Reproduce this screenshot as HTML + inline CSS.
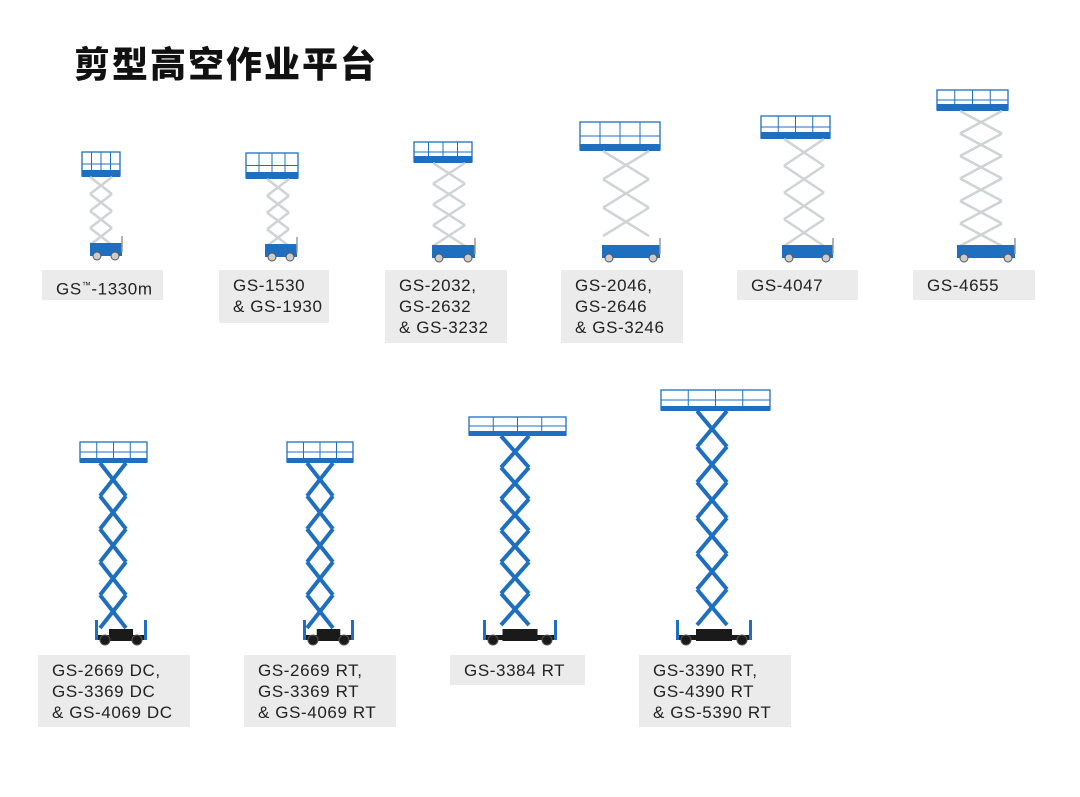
<!DOCTYPE html>
<html><head><meta charset="utf-8">
<style>
html,body{margin:0;padding:0;background:#fff;}
body{width:1080px;height:797px;position:relative;overflow:hidden;font-family:"Liberation Sans","Noto Sans CJK SC",sans-serif;}
h1{position:absolute;left:74px;top:36px;margin:0;font-size:36px;font-weight:900;letter-spacing:2px;font-family:"Noto Sans CJK SC","WenQuanYi Zen Hei",sans-serif;color:#111;}
.lb{position:absolute;background:#ebebeb;color:#222;font-size:17px;line-height:21px;padding:5px 0 0 14px;box-sizing:border-box;letter-spacing:0.6px;}
svg{position:absolute;left:0;top:0;}
</style></head><body>
<h1>剪型高空作业平台</h1>
<svg id="s" width="1080" height="797"></svg>
<div class="lb" style="left:42px;top:270px;width:121px;height:30px">GS<sup style="font-size:9px">™</sup>-1330m</div>
<div class="lb" style="left:219px;top:270px;width:110px;height:53px">GS-1530<br>&amp; GS-1930</div>
<div class="lb" style="left:385px;top:270px;width:122px;height:73px">GS-2032,<br>GS-2632<br>&amp; GS-3232</div>
<div class="lb" style="left:561px;top:270px;width:122px;height:73px">GS-2046,<br>GS-2646<br>&amp; GS-3246</div>
<div class="lb" style="left:737px;top:270px;width:121px;height:30px">GS-4047</div>
<div class="lb" style="left:913px;top:270px;width:122px;height:30px">GS-4655</div>
<div class="lb" style="left:38px;top:655px;width:152px;height:72px">GS-2669 DC,<br>GS-3369 DC<br>&amp; GS-4069 DC</div>
<div class="lb" style="left:244px;top:655px;width:152px;height:72px">GS-2669 RT,<br>GS-3369 RT<br>&amp; GS-4069 RT</div>
<div class="lb" style="left:450px;top:655px;width:135px;height:30px">GS-3384 RT</div>
<div class="lb" style="left:639px;top:655px;width:152px;height:72px">GS-3390 RT,<br>GS-4390 RT<br>&amp; GS-5390 RT</div>
<script>
var B='#1f6fc0',G='#cfd3d6',K='#1a1a1a';
var o='';
function lift(px,pw,pt,pb,sx,sw,sb,bx,bw,bb,n,rt){
  o+='<rect x="'+px+'" y="'+pt+'" width="'+pw+'" height="'+(pb-pt)+'" fill="none" stroke="'+B+'" stroke-width="1.3"/>';
  o+='<line x1="'+px+'" y1="'+(pt+(pb-pt)*0.5)+'" x2="'+(px+pw)+'" y2="'+(pt+(pb-pt)*0.5)+'" stroke="'+B+'" stroke-width="1"/>';
  for(var i=1;i<4;i++){var xx=px+pw*i/4;o+='<line x1="'+xx+'" y1="'+pt+'" x2="'+xx+'" y2="'+pb+'" stroke="'+B+'" stroke-width="1"/>';}
  var fh=rt?5:7;
  o+='<rect x="'+px+'" y="'+(pb-fh+1)+'" width="'+pw+'" height="'+fh+'" fill="'+B+'"/>';
  var top=pb+1,h=(sb-top)/n,c=rt?B:G,w=rt?4:2.5;
  for(var i=0;i<n;i++){var y1=top+h*i,y2=y1+h;
    o+='<line x1="'+sx+'" y1="'+y1+'" x2="'+(sx+sw)+'" y2="'+y2+'" stroke="'+c+'" stroke-width="'+w+'"/>';
    o+='<line x1="'+(sx+sw)+'" y1="'+y1+'" x2="'+sx+'" y2="'+y2+'" stroke="'+c+'" stroke-width="'+w+'"/>';}
  var bh=rt?12:13;
  o+='<rect x="'+(rt?bx+bw*0.25:bx)+'" y="'+(bb-bh-4)+'" width="'+(rt?bw*0.5:bw)+'" height="'+bh+'" fill="'+(rt?K:B)+'"/>';
  if(rt){o+='<rect x="'+bx+'" y="'+(bb-10)+'" width="'+bw+'" height="5" fill="'+K+'"/>';
    o+='<rect x="'+(bx-2)+'" y="'+(bb-25)+'" width="3" height="20" fill="'+B+'"/><rect x="'+(bx+bw-1)+'" y="'+(bb-25)+'" width="3" height="20" fill="'+B+'"/>';}
  else o+='<line x1="'+(bx+bw)+'" y1="'+(bb-24)+'" x2="'+(bx+bw)+'" y2="'+(bb-8)+'" stroke="#999" stroke-width="1.5"/>';
  var r=rt?5:4;
  o+='<circle cx="'+(bx+r+3)+'" cy="'+(bb-r)+'" r="'+r+'" fill="'+(rt?K:'#ccc')+'" stroke="#555"/>';
  o+='<circle cx="'+(bx+bw-r-3)+'" cy="'+(bb-r)+'" r="'+r+'" fill="'+(rt?K:'#ccc')+'" stroke="#555"/>';
}
lift(82,38,152,176,90,22,245,90,32,260,4,0);
lift(246,52,153,178,267,22,246,265,32,261,4,0);
lift(414,58,142,162,433,32,246,432,43,262,4,0);
lift(580,80,122,150,603,46,236,602,58,262,3,0);
lift(761,69,116,138,784,40,246,782,51,262,4,0);
lift(937,71,90,110,960,42,246,957,58,262,6,0);
lift(80,67,442,462,100,26,628,97,48,645,5,1);
lift(287,66,442,462,307,26,628,305,47,645,5,1);
lift(469,97,417,435,501,28,625,485,70,645,6,1);
lift(661,109,390,410,697,30,625,678,72,645,6,1);
document.getElementById('s').innerHTML=o;
</script>
</body></html>
